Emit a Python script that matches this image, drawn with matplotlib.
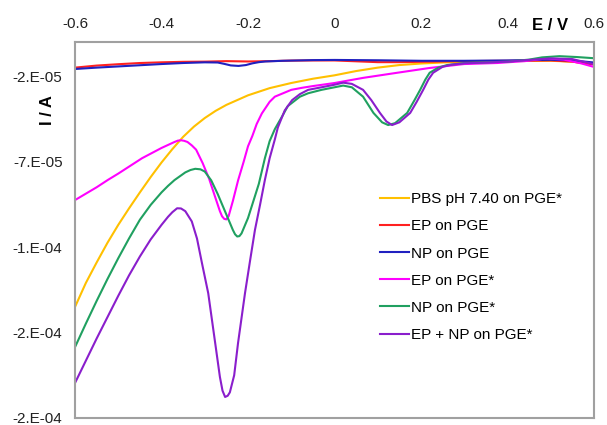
import numpy as np
import matplotlib
matplotlib.use('Agg')
import matplotlib.pyplot as plt
from matplotlib.ticker import FuncFormatter

plt.rcParams['font.family'] = ['Liberation Sans', 'DejaVu Sans']

# potentials (V) and currents (uA)
e_pbs = [-0.6, -0.575, -0.55, -0.525, -0.5, -0.475, -0.45, -0.425, -0.4, -0.375, -0.35, -0.325,
         -0.3, -0.275, -0.25, -0.2, -0.15, -0.1, -0.05, 0.0, 0.05, 0.1, 0.15, 0.2, 0.25, 0.3,
         0.4, 0.5, 0.55, 0.6]
i_pbs = [-155, -141, -129, -117.5, -107, -97.3, -88, -79, -70.5, -62.7, -55.5, -49.5,
         -44.5, -40.3, -36.8, -31.2, -27, -24, -21.5, -19.5, -17, -15, -13.5, -12.6, -12, -11.6,
         -11.2, -11.0, -11.5, -13]

e_ep = [-0.6, -0.55, -0.5, -0.45, -0.4, -0.35, -0.3, -0.25, -0.2, -0.15, -0.1, -0.05,
        0.0, 0.05, 0.1, 0.15, 0.2, 0.3, 0.4, 0.5, 0.55, 0.6]
i_ep = [-15.0, -13.8, -13.0, -12.3, -11.9, -11.6, -11.5, -11.2, -11.4, -11.2, -10.9, -10.8,
        -10.8, -11.3, -11.8, -11.8, -11.6, -11.2, -11.0, -10.8, -11.5, -13.2]

e_np = [-0.6, -0.55, -0.5, -0.45, -0.4, -0.35, -0.3, -0.27, -0.255, -0.24, -0.222, -0.205,
        -0.19, -0.175, -0.16, -0.12, -0.05, 0.0, 0.1, 0.2, 0.3, 0.4, 0.5, 0.55, 0.6]
i_np = [-15.8, -15.0, -14.3, -13.6, -12.9, -12.3, -11.9, -12.0, -12.8, -13.7, -14.0, -13.5,
        -12.5, -11.8, -11.4, -11.0, -10.6, -10.5, -10.7, -11.0, -11.0, -10.8, -10.4, -10.8, -12.0]

e_ep_m = [-0.6, -0.55, -0.524, -0.5, -0.445, -0.4, -0.37, -0.362, -0.355, -0.348, -0.34,
          -0.33, -0.32, -0.305, -0.29, -0.276, -0.265, -0.26, -0.255, -0.25, -0.245, -0.235,
          -0.223, -0.21, -0.2, -0.19, -0.18, -0.168, -0.15, -0.138, -0.1, -0.075, -0.05, 0.0,
          0.066, 0.145, 0.22, 0.3, 0.376, 0.44, 0.49, 0.53, 0.57, 0.6]
i_ep_m = [-92.5, -85, -80.7, -77, -68, -62, -58.5, -57.7, -57.5, -57.8, -58.5,
          -60.5, -63, -70.8, -80, -90.7, -99, -102, -103.5, -103.8, -102, -93,
          -81, -70, -61, -55, -48, -41.8, -35, -32, -28, -26.8, -25.8, -24,
          -21, -18, -15.2, -12.9, -12.3, -11.2, -9.6, -10.3, -12.5, -14.6]

e_np_m = [-0.6, -0.575, -0.55, -0.525, -0.5, -0.475, -0.45, -0.425, -0.4, -0.385, -0.37,
          -0.345, -0.333, -0.322, -0.31, -0.3, -0.285, -0.27, -0.255, -0.245, -0.235, -0.23,
          -0.225, -0.22, -0.215, -0.2, -0.19, -0.175, -0.161, -0.15, -0.138, -0.12, -0.108,
          -0.08, -0.061, -0.03, 0.0, 0.02, 0.04, 0.066, 0.09, 0.11, 0.124, 0.14, 0.168,
          0.185, 0.198, 0.21, 0.22, 0.24, 0.26, 0.3, 0.4, 0.45, 0.48, 0.52, 0.56, 0.6]
i_np_m = [-178.5, -164.8, -151.5, -138.7, -126.5, -114.9, -104, -95.3, -88, -84.2, -80.8,
          -76.3, -74.9, -74.2, -74.5, -75.8, -81, -89, -98, -104, -110, -112.5,
          -113.8, -113.6, -112, -103, -95, -83, -68, -58, -51, -43, -37.5,
          -32, -30, -28, -26.5, -25.5, -26.5, -32, -41.5, -47, -48.6, -47.5, -41.5,
          -34, -28, -22, -18, -15, -13.5, -12.3, -11.5, -10.3, -9.0, -8.3, -8.8, -9.5]

e_mix = [-0.6, -0.575, -0.55, -0.525, -0.5, -0.475, -0.45, -0.425, -0.4, -0.385, -0.375,
         -0.364, -0.355, -0.345, -0.33, -0.318, -0.306, -0.292, -0.276, -0.265, -0.259,
         -0.253, -0.247, -0.242, -0.232, -0.223, -0.207, -0.195, -0.184, -0.172, -0.161,
         -0.15, -0.138, -0.131, -0.115, -0.098, -0.08, -0.061, -0.03, 0.0, 0.02, 0.04,
         0.066, 0.085, 0.105, 0.12, 0.133, 0.15, 0.175, 0.19, 0.205, 0.217, 0.228, 0.25,
         0.27, 0.3, 0.4, 0.45, 0.5, 0.55, 0.6]
i_mix = [-199.5, -186.5, -173.5, -161, -148.5, -136.5, -125.5, -115.5, -107, -102.3, -99.6,
         -97.3, -97.4, -99, -105, -115, -130, -147, -176, -196, -204,
         -207.7, -207, -205, -195, -176, -147, -127.5, -110, -95, -80.7,
         -68, -57, -50, -40, -34, -30.5, -28, -26.5, -25, -23.8, -24.5,
         -28, -34, -41.5, -46.5, -48.6, -47, -41.5, -35, -28, -22, -18, -14.5,
         -13.3, -12.5, -11.5, -10.5, -9.6, -10, -13]

series = [
    (e_pbs, i_pbs, 'PBS pH 7.40 on PGE*', '#FFC000'),
    (e_ep, i_ep, 'EP on PGE', '#FF2020'),
    (e_np, i_np, 'NP on PGE', '#2020C0'),
    (e_ep_m, i_ep_m, 'EP on PGE*', '#FF00FF'),
    (e_np_m, i_np_m, 'NP on PGE*', '#20A060'),
    (e_mix, i_mix, 'EP + NP on PGE*', '#8A1ECC'),
]

yticks = [-2e-5, -7e-5, -1.2e-4, -1.7e-4, -2.2e-4]
xticks = [-0.6, -0.4, -0.2, 0, 0.2, 0.4, 0.6]

fig = plt.figure(figsize=(6.07, 4.25), dpi=100)
ax = fig.add_axes([0.1236, 0.0165, 0.855, 0.8847])

for e, i, lab, col in series:
    ax.plot(e, np.array(i) * 1e-6, color=col, lw=1.5, label=lab)

ax.set_xlim(-0.6, 0.6)
ax.set_ylim(-2.2e-4, 0)
ax.set_xticks(xticks)
ax.set_yticks(yticks)
ax.xaxis.tick_top()
ax.xaxis.set_major_formatter(FuncFormatter(lambda v, p: '0' if abs(v) < 1e-9 else f'{v:g}'))
ax.yaxis.set_major_formatter(FuncFormatter(lambda v, p: f'{v:.0E}'.replace('E', '.E')))
ax.tick_params(length=0, labelsize=11, colors='#222222')
ax.tick_params(axis='x', pad=8)
ax.tick_params(axis='y', pad=9)
for s in ax.spines.values():
    s.set_color('#A0A0A0')
    s.set_linewidth(1.5)

fig.text(550 / 607, 1 - 25 / 425, 'E / V', fontsize=12, fontweight='bold', ha='center', va='center')
fig.text(47 / 607, 1 - 110 / 425, 'I / A', fontsize=12, fontweight='bold', rotation=90,
         ha='center', va='center')

ax.legend(loc='upper left', bbox_to_anchor=(0.561, 0.637), frameon=False, fontsize=11,
          handlelength=1.9, handletextpad=0.15, labelspacing=0.86)

fig.savefig('out.png', dpi=100)
